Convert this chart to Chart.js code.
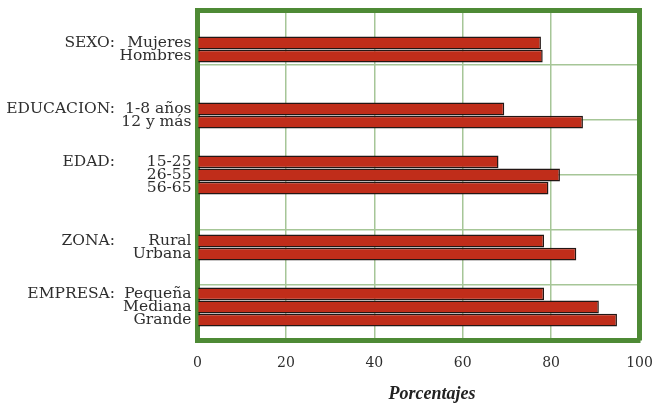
<!DOCTYPE html>
<html>
<head>
<meta charset="utf-8">
<script src="https://cdn.jsdelivr.net/npm/chart.js@4.4.1/dist/chart.umd.min.js"></script>
<style>
  html, body { margin: 0; padding: 0; background: #fff; }
  #wrap { width: 663px; height: 405px; position: relative; }
</style>
</head>
<body>
<div id="wrap"><canvas id="barChart"></canvas></div>
<script>
// datos
const groups = ["SEXO:", "EDUCACION:", "EDAD:", "ZONA:", "EMPRESA:"];
const subLabels = [
  ["Mujeres", "Hombres"],
  ["1-8 años", "12 y más"],
  ["15-25", "26-55", "56-65"],
  ["Rural", "Urbana"],
  ["Pequeña", "Mediana", "Grande"]
];
const values = [
  [77.7, 78.1],
  [69.4, 87.2],
  [68.1, 82.0, 79.4],
  [78.4, 85.7],
  [78.4, 90.8, 94.9]
];
const xTicks = [0, 20, 40, 60, 80, 100];
const xTitle = "Porcentajes";

const RED = "#C02D1A";
const FRAME = "#4E8A35";
const GRID = "#A6C697";
const TEXT = "#2E2E2E";

// cada grupo ocupa una franja de 5 filas
const rowLabels = [];
const groupLabels = [];
const rowValues = [];
groups.forEach((g, gi) => {
  const subs = subLabels[gi];
  const lead = 4 - subs.length;
  for (let s = 0; s < 5; s++) {
    const k = s - lead;
    if (k >= 0 && k < subs.length) {
      rowLabels.push(subs[k]);
      groupLabels.push(k === 0 ? g : "");
      rowValues.push(values[gi][k]);
    } else {
      rowLabels.push("");
      groupLabels.push("");
      rowValues.push(null);
    }
  }
});

const serif = "'DejaVu Serif', serif";

// sin margen extra de las etiquetas en los bordes
const noPad = (s) => { s.paddingTop = 0; s.paddingBottom = 0; s.paddingLeft = 0; s.paddingRight = 0; };

new Chart(document.getElementById("barChart"), {
  type: "bar",
  data: {
    labels: rowLabels,
    datasets: [{
      data: rowValues,
      backgroundColor: RED,
      borderColor: "#231614",
      borderWidth: 1.5,
      borderSkipped: "start",
      barPercentage: 0.97,
      categoryPercentage: 1,
      yAxisID: "y",
      xAxisID: "x"
    }]
  },
  options: {
    indexAxis: "y",
    responsive: true,
    maintainAspectRatio: false,
    animation: false,
    layout: { padding: { top: 10, right: 23.5, bottom: 0, left: 0 } },
    plugins: { legend: { display: false }, tooltip: { enabled: false } },
    scales: {
      x: {
        type: "linear",
        position: "bottom",
        min: 0, max: 100,
        afterBuildTicks: (s) => { s.ticks = xTicks.map(v => ({ value: v })); },
        afterFit: (s) => { noPad(s); s.height = 65; },
        grid: { color: GRID, lineWidth: 1.5, drawTicks: false },
        border: { color: FRAME, width: 5 },
        ticks: { color: TEXT, padding: 15, font: { family: serif, size: 14 } },
        title: {
          display: true,
          text: "\u00A0\u00A0\u00A0\u00A0\u00A0\u00A0" + xTitle,
          color: "#222",
          padding: { top: 0, bottom: 0 },
          font: { family: "'Liberation Serif', serif", size: 18, style: "italic", weight: "bold" }
        }
      },
      xTop: {
        type: "linear",
        position: "top",
        min: 0, max: 100,
        afterFit: (s) => { noPad(s); s.height = 0; },
        grid: { display: false, drawTicks: false },
        border: { color: FRAME, width: 5 },
        ticks: { display: false }
      },
      y: {
        type: "category",
        position: "left",
        weight: 0,
        z: 1,
        offset: true,
        afterFit: (s) => { noPad(s); s.width = 81.5; },
        grid: { display: false, offset: true, drawTicks: false },
        border: { color: FRAME, width: 5 },
        ticks: { color: TEXT, padding: 6, autoSkip: false, font: { family: serif, size: 15.5 } }
      },
      g: {
        type: "category",
        position: "left",
        weight: 1,
        labels: groupLabels,
        offset: true,
        afterFit: (s) => { noPad(s); s.width = 116; },
        grid: { display: false, offset: true, drawTicks: false },
        border: { display: false },
        ticks: { color: TEXT, padding: 1, autoSkip: false, font: { family: serif, size: 15.5 } }
      },
      band: {
        type: "linear",
        position: "right",
        min: 0, max: 5,
        reverse: true,
        afterFit: (s) => { noPad(s); s.width = 0; },
        ticks: { display: false, stepSize: 1 },
        grid: { color: GRID, lineWidth: 1.5, drawTicks: false },
        border: { color: FRAME, width: 5 }
      }
    }
  }
});
</script>
</body>
</html>
